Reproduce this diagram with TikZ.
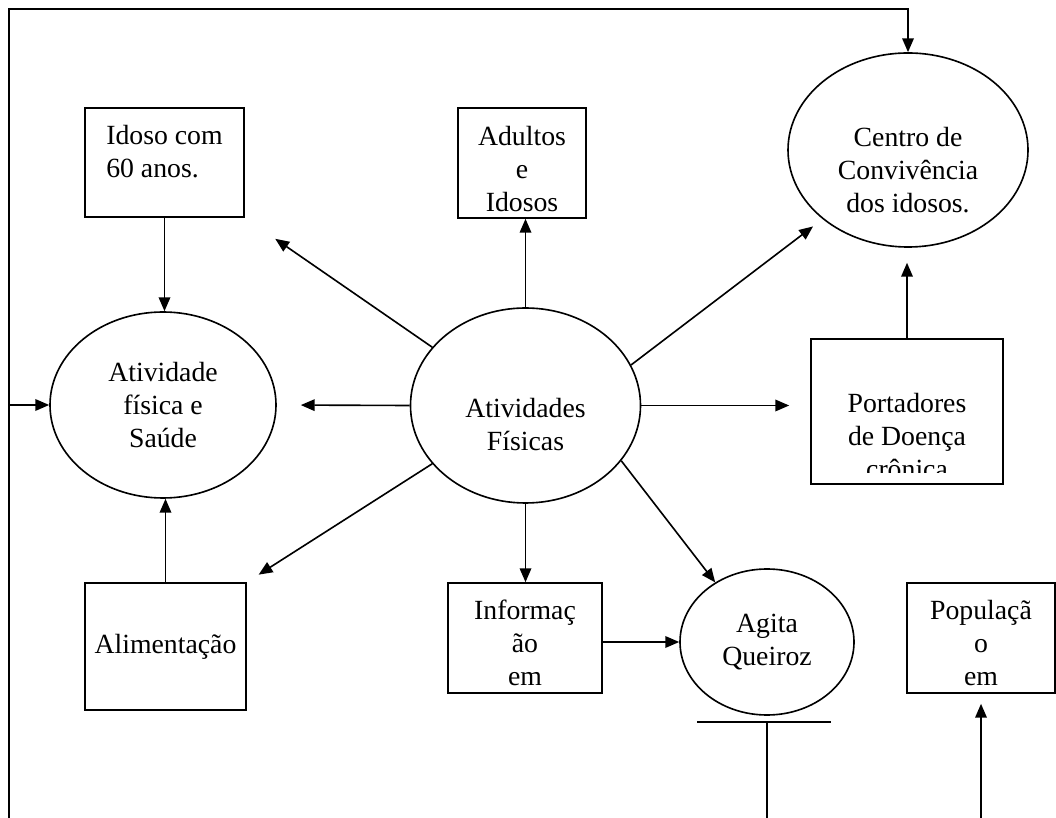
\documentclass[tikz,border=0pt]{standalone}
\usepackage{fontspec}
\setmainfont{Liberation Serif}
\usetikzlibrary{shapes.geometric,arrows.meta,positioning}

\newlength\px
\setlength\px{0.0152cm}

\tikzset{
  box/.style={draw, rectangle, inner sep=0pt},
  oval/.style={draw, ellipse, inner sep=0pt, align=center},
  arr/.style={-{Triangle[length=6pt,width=5pt]}},
  cliptext/.style n args={4}{path picture={
    \clip ([yshift=#2\px]path picture bounding box.south west) rectangle (path picture bounding box.north east);
    \node[draw=none, rectangle, minimum width=0pt, minimum height=0pt, anchor=north, align=#3, inner sep=0pt]
      at ([yshift=-#1\px]path picture bounding box.north) {#4};}},
}

\begin{document}
\begin{tikzpicture}[x=1\px, y=-1\px, line width=0.7pt, font=\fontsize{12}{14.3}\selectfont]
\useasboundingbox (0,0) rectangle (1056,818);

% boxes
\node[box, minimum width=159\px, minimum height=109\px, cliptext={16}{6}{left}{Idoso com\\60 anos.}] (idoso) at (164.5,162.5) {};
\node[box, minimum width=128\px, minimum height=110\px, cliptext={17}{6}{center}{Adultos\\e\\Idosos}] (adultos) at (522,163) {};
\node[box, minimum width=192\px, minimum height=145\px, cliptext={53}{11}{center}{Portadores\\de Doença\\crônica}] (portadores) at (907,411.5) {};
\node[box, minimum width=161\px, minimum height=127\px] (alim) at (165.5,646.5) {Alimentação};
\node[box, minimum width=154\px, minimum height=110\px, cliptext={16}{5}{center}{Informaç\\ão\\em}] (info) at (525,638) {};
\node[box, minimum width=148\px, minimum height=110\px, cliptext={16}{5}{center}{Populaçã\\o\\em}] (pop) at (981,638) {};

% ellipses
\node[oval, minimum width=240\px, minimum height=194\px] (centro) at (908,150) {};
\node[align=center] (centrotxt) at ([yshift=-20\px]centro.center) {Centro de\\Convivência\\dos idosos.};
\node[oval, minimum width=226\px, minimum height=186\px] (saude) at (163,405) {Atividade\\física e\\Saúde};
\node[oval, minimum width=230\px, minimum height=195\px] (fisicas) at (525.5,405.5) {};
\node[align=center] (fisicastxt) at ([yshift=-19\px]fisicas.center) {Atividades\\Físicas};
\node[oval, minimum width=174\px, minimum height=146\px] (agita) at (767,642) {Agita\\Queiroz};

% frame
\coordinate (lft) at (9,818);
\coordinate (topl) at (9,9);
\draw[arr] (lft) -- (topl) -| (centro.north);
\draw[arr] (lft |- saude.west) -- (saude.west);

% arrows
\draw[arr] (idoso.south) -- (idoso.south |- saude.north);
\draw[arr] (alim.north) -- (alim.north |- saude.south);
\draw[arr, shorten >=24\px] (fisicas.west) -- (saude.east);
\draw[arr, shorten >=37\px] (fisicas.148) -- (idoso.south east);
\draw[arr] (fisicas.north) -- (fisicas.north |- adultos.south);
\draw[arr, shorten >=12\px] (fisicas.21) -- (centro.219);
\draw[arr, shorten >=21\px] (fisicas.east) -- (fisicas.east -| portadores.west);
\draw[arr, shorten >=14\px] (fisicas.212) -- (alim.north east);
\draw[arr] (fisicas.south) -- (fisicas.south |- info.north);
\draw[arr] (fisicas.-30) -- (agita.131);
\draw[arr] (info.east |- agita.west) -- (agita.west);
\draw[arr, shorten >=15\px] (portadores.north) -- (portadores.north |- centro.south);

% bottom
\coordinate (tee) at (767,722);
\draw ([xshift=-70\px]tee) -- ([xshift=64\px]tee);
\draw (tee) -- (tee |- lft);
\draw[arr, shorten >=10\px] (pop.south |- lft) -- (pop.south);
\end{tikzpicture}
\end{document}
